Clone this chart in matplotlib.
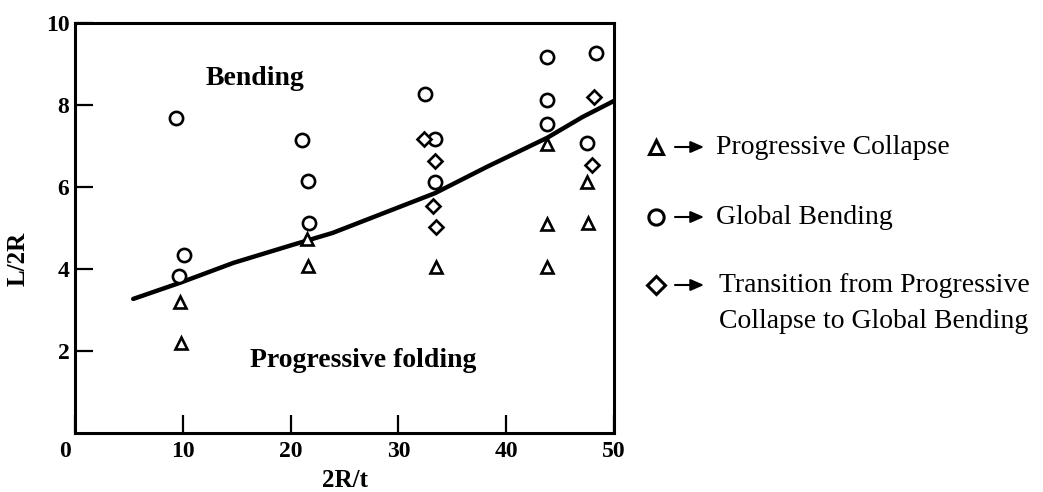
import matplotlib
matplotlib.use("Agg")
import matplotlib.pyplot as plt
import matplotlib.transforms as mtransforms

# ---- data ----
tri_x = [9.7, 9.8, 21.5, 21.6, 33.5, 43.8, 43.8, 43.8, 47.5, 47.6]
tri_y = [3.2, 2.2, 4.73, 4.07, 4.05, 4.05, 5.1, 7.05, 6.12, 5.12]

circ_x = [9.4, 10.1, 9.65, 21.1, 21.6, 21.7, 32.5, 33.4, 33.4, 43.8, 43.8, 43.8, 48.3, 47.5]
circ_y = [7.68, 4.34, 3.83, 7.15, 6.14, 5.12, 8.27, 7.17, 6.12, 9.17, 8.12, 7.54, 9.26, 7.07]

dia_x = [32.4, 33.4, 33.2, 33.5, 48.1, 48.0]
dia_y = [7.17, 6.63, 5.54, 5.03, 8.2, 6.54]

curve_x = [5.4, 9.7, 14.7, 20.2, 23.9, 28.6, 33.4, 38.2, 43.8, 47.1, 50.0]
curve_y = [3.27, 3.66, 4.15, 4.59, 4.88, 5.36, 5.85, 6.49, 7.2, 7.71, 8.1]

x_ticks = [0, 10, 20, 30, 40, 50]
y_ticks = [2, 4, 6, 8, 10]
legend_labels = ["Progressive Collapse", "Global Bending",
                 "Transition from Progressive\nCollapse to Global Bending"]

W, H = 1043, 492
fig = plt.figure(figsize=(W / 100, H / 100), dpi=100)
L, R, T, B = 75, 614, 23, 433
ax = fig.add_axes([L / W, (H - B) / H, (R - L) / W, (B - T) / H])

serif = ["Liberation Serif", "DejaVu Serif"]

ax.plot(curve_x, curve_y, color="black", lw=3.2, solid_capstyle="round", zorder=2)
mk = dict(linestyle="none", markerfacecolor="white", markeredgecolor="black",
          markeredgewidth=1.9, zorder=3, clip_on=False)
ax.plot(tri_x, tri_y, marker="^", markersize=8.5, **mk)
ax.plot(circ_x, circ_y, marker="o", markersize=9.5, **mk)
ax.plot(dia_x, dia_y, marker="D", markersize=7.5, **mk)

ax.set_xlim(0, 50)
ax.set_ylim(0, 10)
ax.set_xticks(x_ticks)
ax.set_yticks(y_ticks)
ax.set_xticklabels([str(v) for v in x_ticks])
ax.set_yticklabels([str(v) for v in y_ticks])
for s in ax.spines.values():
    s.set_linewidth(2.2)
ax.tick_params(direction="in", length=13, width=1.6, labelsize=17, pad=6)
ax.tick_params(axis="y", pad=4)
for lab in ax.get_xticklabels() + ax.get_yticklabels():
    lab.set_fontfamily(serif)
    lab.set_fontweight("bold")
# shift the origin label slightly left as in reference
xl = ax.get_xticklabels()
xl[0].set_transform(xl[0].get_transform() + mtransforms.ScaledTranslation(-10 / 100, 0, fig.dpi_scale_trans))

ax.set_xlabel("2R/t", fontsize=18, fontweight="bold", family=serif)
ax.set_ylabel("L/2R", fontsize=18, fontweight="bold", family=serif)
ax.xaxis.label.set_va("center")
ax.xaxis.label.set_ha("center")
ax.yaxis.label.set_va("center")
ax.yaxis.label.set_ha("center")
ax.xaxis.set_label_coords(0.501, -0.115)
ax.yaxis.set_label_coords(-0.106, 0.424)

ax.text(16.7, 8.65, "Bending", fontsize=20, fontweight="bold", family=serif,
        ha="center", va="center")
ax.text(26.7, 1.78, "Progressive folding", fontsize=20, fontweight="bold", family=serif,
        ha="center", va="center")

# ---- legend on the right, drawn in a pixel-space overlay ----
ov = fig.add_axes([0, 0, 1, 1])
ov.set_xlim(0, W)
ov.set_ylim(H, 0)
ov.axis("off")
rows_y = [147, 217, 285]
markers = ["^", "o", "D"]
msizes = [10, 11, 9]
for yy, m, ms, lab in zip(rows_y, markers, msizes, legend_labels):
    ov.plot([656], [yy], marker=m, markersize=ms, markerfacecolor="white",
            markeredgecolor="black", markeredgewidth=2.2, linestyle="none")
    ov.annotate("", xy=(704, yy), xytext=(675, yy),
                arrowprops=dict(arrowstyle="-|>,head_length=0.8,head_width=0.35",
                                color="black", lw=1.5, shrinkA=0, shrinkB=0))
    lines = lab.split("\n")
    x0 = 716 if len(lines) == 1 else 719
    for i, t in enumerate(lines):
        ov.text(x0, yy + 36 * i, t, fontsize=20, family=serif, ha="left", va="center")

fig.savefig("out.png", dpi=100)
